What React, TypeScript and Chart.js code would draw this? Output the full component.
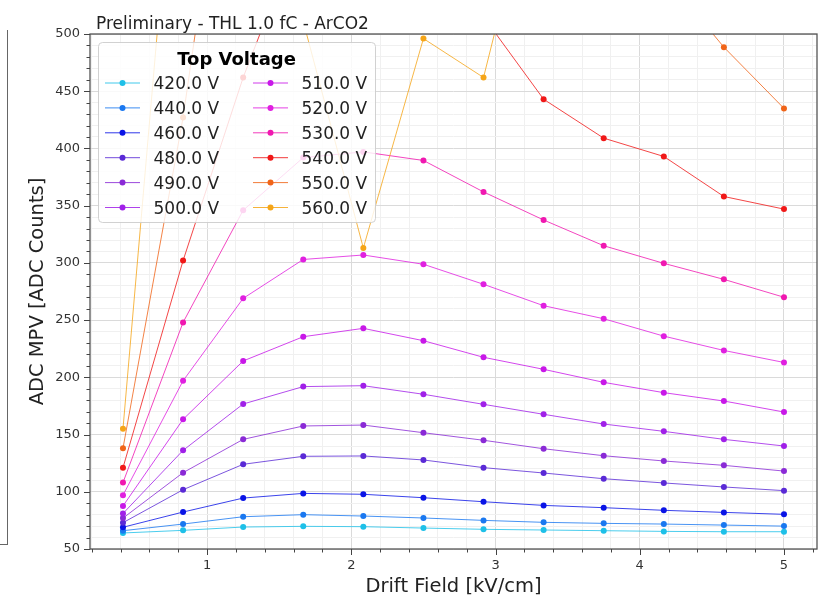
import React, { useEffect, useRef } from 'react';
import { Chart, registerables } from 'chart.js';

Chart.register(...registerables);

// ---- data ----
const driftField = [0.4167, 0.8333, 1.25, 1.6667, 2.0833, 2.5, 2.9167, 3.3333, 3.75, 4.1667, 4.5833, 5.0];

const v420 = [64, 66.3, 69.2, 69.8, 69.5, 68.3, 67.2, 66.6, 66, 65.4, 65.1, 65.1];
const v440 = [66, 71.8, 78.2, 80, 78.8, 77.1, 75, 73.3, 72.4, 71.8, 70.9, 70];
const v460 = [69, 82.3, 94.5, 98.6, 97.8, 94.8, 91.3, 88.1, 86.1, 83.8, 82, 80.3];
const v480 = [73, 101.8, 124, 131, 131.3, 127.8, 121.1, 116.4, 111.4, 107.7, 104.2, 101];
const v490 = [77, 116.7, 145.8, 157.5, 158.3, 151.6, 145, 137.6, 131.5, 126.9, 123.1, 118.1];
const v500 = [81, 136.2, 176.7, 191.9, 192.7, 185.2, 176.4, 167.7, 159.2, 152.8, 145.8, 140];
const v510 = [87.6, 163.3, 214.3, 235.5, 242.8, 232, 217.5, 207, 195.6, 186.6, 179.3, 169.7];
const v520 = [97, 197, 269, 303, 306.9, 298.8, 281.3, 262.6, 251.2, 236, 223.5, 213];
const v530 = [108, 248, 346, 392, 397, 389.5, 362, 337.5, 315, 299.6, 285.6, 270];
const v540 = [121, 302, 462, 598, 640, 600, 515, 443, 409, 393, 358, 347];
const v550 = [138, 427, 790, 850, 830, 780, 720, 660, 600, 552, 488.5, 435];
const v560 = [155, 762, 700, 511, 313, 496, 462, 672, 750, 800, 850, 900];

const seriesLabels = ['420.0 V', '440.0 V', '460.0 V', '480.0 V', '490.0 V', '500.0 V',
  '510.0 V', '520.0 V', '530.0 V', '540.0 V', '550.0 V', '560.0 V'];
const seriesValues = [v420, v440, v460, v480, v490, v500, v510, v520, v530, v540, v550, v560];
const seriesColors = ['#1ec0e8', '#1a78f0', '#0a14e6', '#5a2ad6', '#8a2ad6', '#a020e8',
  '#c818e8', '#e020e0', '#f018b0', '#f01818', '#f06418', '#f5a518'];

const xMajorTicks = [1, 2, 3, 4, 5];
const yMajorTicks = [50, 100, 150, 200, 250, 300, 350, 400, 450, 500];
const xMinorStep = 0.2;
const yMinorStep = 10;

const titleText = 'Preliminary - THL 1.0 fC - ArCO2';
const legendTitle = 'Top Voltage';
const xTitle = 'Drift Field [kV/cm]';
const yTitle = 'ADC MPV [ADC Counts]';

const FONT = "'DejaVu Sans', sans-serif";

function withAlpha(hex: string, a: number) {
  const r = parseInt(hex.slice(1, 3), 16);
  const g = parseInt(hex.slice(3, 5), 16);
  const b = parseInt(hex.slice(5, 7), 16);
  return `rgba(${r},${g},${b},${a})`;
}

function isMajor(list: number[], v: number) {
  return list.some((m) => Math.abs(m - v) < 1e-6);
}

const decorPlugin = {
  id: 'decor',
  afterDatasetsDraw(chart: any) {
    const { ctx, chartArea: a } = chart;
    ctx.save();
    // frame
    ctx.strokeStyle = '#555555';
    ctx.lineWidth = 1.3;
    ctx.strokeRect(a.left, a.top, a.right - a.left, a.bottom - a.top);

    // legend
    const bx = a.left + 8.5;
    const by = a.top + 8.5;
    const bw = 277;
    const bh = 180;
    ctx.beginPath();
    if (ctx.roundRect) ctx.roundRect(bx, by, bw, bh, 4);
    else ctx.rect(bx, by, bw, bh);
    ctx.fillStyle = 'rgba(255,255,255,0.82)';
    ctx.fill();
    ctx.strokeStyle = 'rgba(204,204,204,0.9)';
    ctx.lineWidth = 1;
    ctx.stroke();

    ctx.fillStyle = '#000';
    ctx.font = `bold 18px ${FONT}`;
    ctx.textAlign = 'center';
    ctx.textBaseline = 'alphabetic';
    ctx.fillText(legendTitle, bx + 138, by + 22);

    ctx.font = `17px ${FONT}`;
    ctx.textAlign = 'left';
    seriesLabels.forEach((lab, i) => {
      const col = Math.floor(i / 6);
      const row = i % 6;
      const baseY = by + 46.5 + row * 24.9;
      const midY = baseY - 6;
      const lx = bx + 6.5 + col * 148;
      ctx.strokeStyle = withAlpha(seriesColors[i], 0.85);
      ctx.lineWidth = 1;
      ctx.beginPath();
      ctx.moveTo(lx, midY);
      ctx.lineTo(lx + 35, midY);
      ctx.stroke();
      ctx.fillStyle = seriesColors[i];
      ctx.beginPath();
      ctx.arc(lx + 17.5, midY, 3, 0, Math.PI * 2);
      ctx.fill();
      ctx.fillStyle = '#222';
      ctx.fillText(lab, lx + 48.5, baseY);
    });
    ctx.restore();
  },
  afterDraw(chart: any) {
    const { ctx, chartArea: a, scales } = chart;
    ctx.save();
    ctx.strokeStyle = '#444';
    ctx.lineWidth = 1;
    const xs = scales.x;
    xs.ticks.forEach((t: any) => {
      const px = Math.round(xs.getPixelForValue(t.value)) + 0.5;
      const len = isMajor(xMajorTicks, t.value) ? 6 : 3.5;
      ctx.beginPath();
      ctx.moveTo(px, a.bottom);
      ctx.lineTo(px, a.bottom + len);
      ctx.stroke();
    });
    const ys = scales.y;
    ys.ticks.forEach((t: any) => {
      const py = Math.round(ys.getPixelForValue(t.value)) + 0.5;
      const len = isMajor(yMajorTicks, t.value) ? 6 : 3.5;
      ctx.beginPath();
      ctx.moveTo(a.left, py);
      ctx.lineTo(a.left - len, py);
      ctx.stroke();
    });
    // title
    ctx.fillStyle = '#222';
    ctx.font = `17px ${FONT}`;
    ctx.textAlign = 'left';
    ctx.textBaseline = 'alphabetic';
    ctx.fillText(titleText, a.left + 6, a.top - 5);
    ctx.restore();
  },
};

export default function App() {
  const ref = useRef<HTMLCanvasElement | null>(null);
  useEffect(() => {
    if (!ref.current) return;
    const datasets = seriesLabels.map((label, i) => ({
      label,
      data: driftField.map((x, j) => ({ x, y: seriesValues[i][j] })),
      borderColor: withAlpha(seriesColors[i], 0.8),
      backgroundColor: seriesColors[i],
      pointBackgroundColor: seriesColors[i],
      pointBorderColor: seriesColors[i],
      pointBorderWidth: 0,
      pointRadius: 3,
      borderWidth: 1,
      tension: 0,
      order: seriesLabels.length - i,
    }));
    const chart = new Chart(ref.current, {
      type: 'line',
      data: { datasets },
      plugins: [decorPlugin],
      options: {
        animation: false,
        responsive: true,
        maintainAspectRatio: false,
        layout: { padding: { left: 0, top: 34, right: 11, bottom: 0 } },
        plugins: { legend: { display: false }, tooltip: { enabled: false }, title: { display: false } },
        scales: {
          x: {
            type: 'linear',
            min: 0.188,
            max: 5.229,
            afterBuildTicks: (axis: any) => {
              const ticks: any[] = [];
              for (let v = 0.2; v < 5.23; v += xMinorStep) ticks.push({ value: Math.round(v * 10) / 10 });
              axis.ticks = ticks;
            },
            afterFit: (axis: any) => { axis.height = 52; },
            ticks: {
              autoSkip: false,
              maxRotation: 0,
              padding: 9,
              color: '#333',
              font: { family: FONT, size: 13 },
              callback: (v: any) => (isMajor(xMajorTicks, Number(v)) ? String(Math.round(Number(v))) : ''),
            },
            grid: {
              drawTicks: false,
              color: (c: any) => (isMajor(xMajorTicks, c.tick?.value) ? '#dadada' : '#f0f0f0'),
              lineWidth: 1,
            },
            border: { display: false },
            title: {
              display: true,
              text: xTitle,
              color: '#222',
              font: { family: FONT, size: 19.5 },
              padding: { top: 0, bottom: 2 },
            },
          },
          y: {
            type: 'linear',
            min: 50,
            max: 500,
            afterBuildTicks: (axis: any) => {
              const ticks: any[] = [];
              for (let v = 50; v <= 500; v += yMinorStep) ticks.push({ value: v });
              axis.ticks = ticks;
            },
            afterFit: (axis: any) => { axis.width = 90; },
            ticks: {
              autoSkip: false,
              padding: 10,
              color: '#333',
              font: { family: FONT, size: 13 },
              callback: (v: any) => (isMajor(yMajorTicks, Number(v)) ? String(Number(v)) : ''),
            },
            grid: {
              drawTicks: false,
              color: (c: any) => (isMajor(yMajorTicks, c.tick?.value) ? '#dadada' : '#f0f0f0'),
              lineWidth: 1,
            },
            border: { display: false },
            title: {
              display: true,
              text: yTitle,
              color: '#222',
              font: { family: FONT, size: 19.5 },
              padding: { top: 26, bottom: 0 },
            },
          },
        },
      },
    });
    return () => chart.destroy();
  }, []);

  return (
    <div style={{ position: 'absolute', left: 0, top: 0, width: 828, height: 601, background: '#fff' }}>
      <div
        style={{
          position: 'absolute',
          left: -2,
          top: 30,
          width: 9,
          height: 514,
          borderRight: '1.5px solid #666',
          borderBottom: '1.5px solid #666',
        }}
      />
      <canvas ref={ref} />
    </div>
  );
}
